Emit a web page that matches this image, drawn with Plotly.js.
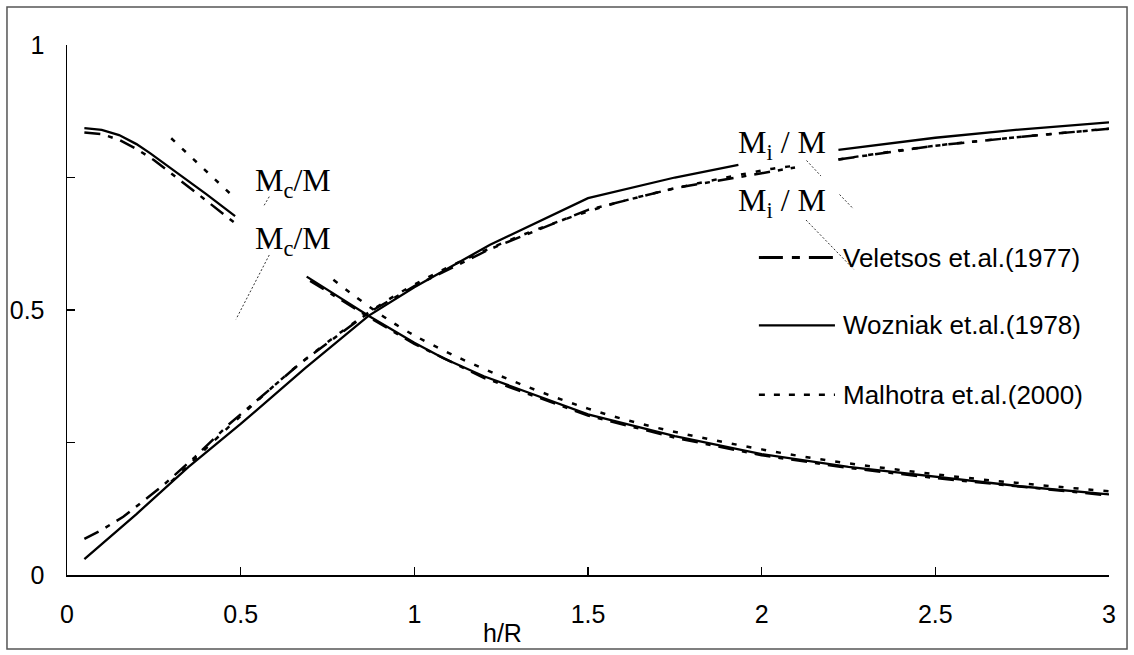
<!DOCTYPE html>
<html>
<head>
<meta charset="utf-8">
<script src="https://cdn.plot.ly/plotly-3.0.1.min.js"></script>
<style>html,body{margin:0;padding:0;background:#fff;}#chart{width:1134px;height:655px;}</style>
</head>
<body>
<div id="chart"></div>
<script>
// ---- Data (h/R on x, mass ratio on y); null = gap under a label ----
const seriesNames = ["Veletsos et.al.(1977)", "Wozniak et.al.(1978)", "Malhotra et.al.(2000)"];

// Veletsos et.al.(1977)  (dash-dot)
const veletsosMcX = [0.05, 0.1, 0.15, 0.2, 0.25, 0.3, 0.35, 0.4, 0.45, 0.484, null, 0.7, 0.75, 0.868, 1.0, 1.2, 1.5, 1.75, 2.0, 2.25, 2.5, 2.75, 3.0];
const veletsosMcY = [0.835, 0.832, 0.821, 0.804, 0.783, 0.758, 0.733, 0.707, 0.681, 0.664, null, 0.555, 0.535, 0.487, 0.436, 0.372, 0.301, 0.259, 0.226, 0.202, 0.183, 0.166, 0.150];
const veletsosMiX = [0.05, 0.1, 0.162, 0.273, 0.369, 0.464, 0.671, 0.868, 1.0, 1.218, 1.5, 1.75, 2.0, 2.096, null, 2.221, 2.5, 2.75, 3.0];
const veletsosMiY = [0.068, 0.085, 0.110, 0.167, 0.223, 0.283, 0.399, 0.495, 0.545, 0.615, 0.689, 0.730, 0.758, 0.769, null, 0.784, 0.810, 0.827, 0.842];

// Wozniak et.al.(1978)  (solid)
const wozniakMcX = [0.05, 0.1, 0.15, 0.2, 0.239, 0.3, 0.354, 0.4, 0.45, 0.484, null, 0.69, 0.75, 0.868, 1.0, 1.084, 1.2, 1.362, 1.5, 1.75, 2.0, 2.25, 2.5, 2.75, 3.0];
const wozniakMcY = [0.843, 0.840, 0.830, 0.813, 0.796, 0.767, 0.742, 0.719, 0.694, 0.677, null, 0.563, 0.538, 0.489, 0.438, 0.409, 0.375, 0.336, 0.303, 0.262, 0.228, 0.204, 0.185, 0.167, 0.152];
const wozniakMiX = [0.05, 0.2, 0.35, 0.5, 0.685, 0.868, 1.0, 1.218, 1.5, 1.75, 1.933, null, 2.221, 2.5, 2.75, 3.0];
const wozniakMiY = [0.030, 0.115, 0.204, 0.285, 0.390, 0.489, 0.543, 0.623, 0.711, 0.750, 0.774, null, 0.802, 0.825, 0.841, 0.854];

// Malhotra et.al.(2000)  (dotted)
const malhotraMcX = [0.3, 0.474, null, 0.767, 1.0, 1.5, 2.0, 2.5, 3.0];
const malhotraMcY = [0.824, 0.717, null, 0.557, 0.452, 0.314, 0.237, 0.190, 0.158];
const malhotraMiX = [0.3, 0.5, 0.7, 1.0, 1.5, 2.0, 2.096, null, 2.221, 2.5, 3.0];
const malhotraMiY = [0.176, 0.300, 0.414, 0.548, 0.686, 0.763, 0.772, null, 0.784, 0.810, 0.842];

// Axis ticks
const xTickVals = [0, 0.5, 1, 1.5, 2, 2.5, 3];
const xTickText = ["0", "0.5", "1", "1.5", "2", "2.5", "3"];
const yTickVals = [0, 0.5, 1];
const yTickText = ["0", "0.5", "1"];
const yMinorStep = 0.25;
const xAxisLabel = "h/R";
const curveLabels = ["M<sub>c</sub>/M", "M<sub>c</sub>/M", "M<sub>i</sub> / M", "M<sub>i</sub> / M"];

// ---- Styles ----
const SANS = "Liberation Sans, Arial, sans-serif";
const SERIF = "Liberation Serif, Times New Roman, serif";
const styleV = {color: "#000", width: 2.5, dash: "16px,8px,5px,8px"};
const styleW = {color: "#000", width: 2.3, dash: "solid"};
const styleM = {color: "#000", width: 2.5, dash: "5px,10px"};

function tr(x, y, line, name, shape) {
  return {x: x, y: y, type: "scatter", mode: "lines", name: name, showlegend: false,
          connectgaps: false, line: Object.assign({shape: shape || "linear"}, line), hoverinfo: "skip"};
}

const data = [
  tr(malhotraMcX, malhotraMcY, styleM, seriesNames[2] + " Mc", "spline"),
  tr(malhotraMiX, malhotraMiY, styleM, seriesNames[2] + " Mi", "spline"),
  tr(veletsosMcX, veletsosMcY, styleV, seriesNames[0] + " Mc"),
  tr(veletsosMiX, veletsosMiY, styleV, seriesNames[0] + " Mi"),
  tr(wozniakMcX, wozniakMcY, styleW, seriesNames[1] + " Mc"),
  tr(wozniakMiX, wozniakMiY, styleW, seriesNames[1] + " Mi")
];

// plot area: x 67..1109 px, y 45..575 px
const legendY = [0.599, 0.471, 0.340];
const legendStyles = [
  {color: "#000", width: 3, dash: "24px,9px,8px,9px"},
  {color: "#000", width: 2.3, dash: "solid"},
  {color: "#000", width: 2.5, dash: "6px,9px"}
];
const leader = {color: "#333", width: 1, dash: "2px,2px"};

const shapes = [
  // figure border
  {type: "rect", xref: "paper", yref: "paper", x0: -0.0576, x1: 1.0173, y0: -0.1396, y1: 1.0717,
   line: {color: "#555", width: 1.5}, fillcolor: "rgba(0,0,0,0)", layer: "below"},
  // leader lines of labels
  {type: "line", xref: "paper", yref: "paper", x0: 0.1941, y0: 0.7138, x1: 0.1884, y1: 0.6949, line: leader},
  {type: "line", xref: "paper", yref: "paper", x0: 0.1941, y0: 0.6038, x1: 0.1622, y1: 0.4825, line: leader},
  {type: "line", xref: "paper", yref: "paper", x0: 0.7097, y0: 0.7821, x1: 0.7236, y1: 0.7528, line: leader},
  {type: "line", xref: "paper", yref: "paper", x0: 0.7414, y0: 0.7179, x1: 0.7548, y1: 0.6906, line: leader},
  {type: "line", xref: "paper", yref: "paper", x0: 0.7092, y0: 0.6698, x1: 0.7550, y1: 0.5768, line: leader}
];
legendY.forEach((yy, i) => {
  shapes.push({type: "line", xref: "paper", yref: "paper", x0: 0.664, x1: 0.737, y0: yy, y1: yy, line: legendStyles[i]});
});

const annotations = [
  {text: curveLabels[0], x: 0.2173, y: 0.7415},
  {text: curveLabels[1], x: 0.2173, y: 0.632},
  {text: curveLabels[2], x: 0.6862, y: 0.812},
  {text: curveLabels[3], x: 0.6862, y: 0.702}
].map(a => Object.assign({xref: "paper", yref: "paper", xanchor: "center", yanchor: "middle", showarrow: false,
  font: {family: SERIF, size: 32, color: "#000"}}, a));
legendY.forEach((yy, i) => {
  annotations.push({xref: "paper", yref: "paper", x: 0.743, y: yy, xanchor: "left", yanchor: "middle",
    showarrow: false, text: seriesNames[i], font: {family: SANS, size: 26, color: "#000"}});
});
annotations.push({xref: "paper", yref: "paper", x: 0.4184, y: -0.109, xanchor: "center", yanchor: "middle",
  showarrow: false, text: xAxisLabel, font: {family: SANS, size: 25, color: "#000"}});

const layout = {
  width: 1134, height: 655,
  margin: {l: 67, r: 25, t: 45, b: 80, pad: 0},
  paper_bgcolor: "#fff", plot_bgcolor: "#fff",
  showlegend: false,
  font: {family: SANS, size: 24, color: "#000"},
  xaxis: {range: [0, 3], tickvals: xTickVals, ticktext: xTickText, ticks: "inside", ticklen: 8, tickwidth: 1.3,
          tickcolor: "#000", showline: true, linecolor: "#000", linewidth: 1.5, showgrid: false, zeroline: false,
          ticklabelstandoff: 16, tickfont: {family: SANS, size: 25, color: "#000"}, fixedrange: true},
  yaxis: {range: [0, 1], tickvals: yTickVals, ticktext: yTickText, ticks: "inside", ticklen: 8, tickwidth: 1.3,
          tickcolor: "#000", showline: true, linecolor: "#000", linewidth: 1.5, showgrid: false, zeroline: false,
          minor: {dtick: yMinorStep, ticks: "inside", ticklen: 8, tickwidth: 1.3, tickcolor: "#000", showgrid: false},
          ticklabelstandoff: 16, tickfont: {family: SANS, size: 25, color: "#000"}, fixedrange: true},
  shapes: shapes,
  annotations: annotations
};

Plotly.newPlot("chart", data, layout, {displayModeBar: false, staticPlot: true});
</script>
</body>
</html>
